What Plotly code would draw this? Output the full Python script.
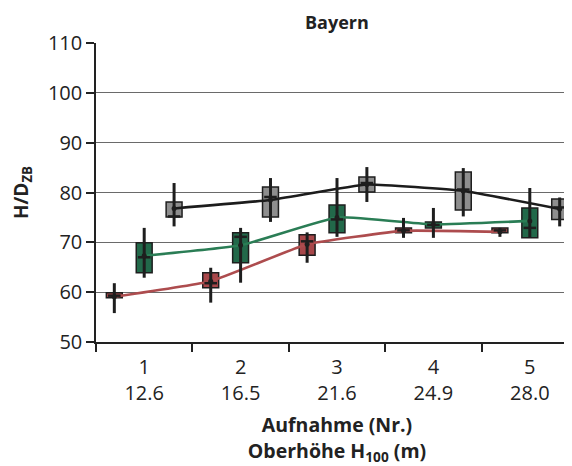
import plotly.graph_objects as go

categories = [1, 2, 3, 4, 5]
tick_labels = ["1<br>12.6", "2<br>16.5", "3<br>21.6", "4<br>24.9", "5<br>28.0"]

# red series
red_q1 = [58.9, 60.9, 67.4, 71.9, 71.9]
red_q3 = [59.9, 63.9, 71.5, 72.9, 72.9]
red_lo = [55.8, 57.9, 65.9, 70.9, 71.1]
red_hi = [61.8, 64.9, 72.0, 74.9, 72.9]
red_med = [59.3, 61.8, 70.2, 72.4, 72.4]
red_mean = [59.1, 62.2, 69.6, 72.3, 72.1]

# green series
green_q1 = [63.9, 65.9, 71.9, 72.9, 70.9]
green_q3 = [69.9, 71.9, 77.5, 74.1, 76.9]
green_lo = [62.9, 61.9, 71.1, 70.9, 70.9]
green_hi = [72.9, 72.9, 82.9, 76.9, 80.9]
green_med = [67.0, 71.1, 74.6, 73.5, 72.9]
green_mean = [67.3, 69.4, 75.0, 73.6, 74.3]

# gray series
gray_q1 = [75.1, 75.1, 80.1, 76.5, 74.6]
gray_q3 = [78.1, 81.1, 83.1, 84.1, 78.7]
gray_lo = [73.2, 74.1, 78.1, 75.2, 73.2]
gray_hi = [81.9, 82.9, 85.1, 84.9, 79.0]
gray_med = [75.2, 79.1, 81.9, 80.6, 77.0]
gray_mean = [76.8, 78.5, 81.6, 80.3, 76.7]

series = [
    dict(q1=red_q1, q3=red_q3, lo=red_lo, hi=red_hi, med=red_med, mean=red_mean,
         fill="#a8474a", line="#ad4c4e", off=-0.31),
    dict(q1=green_q1, q3=green_q3, lo=green_lo, hi=green_hi, med=green_med, mean=green_mean,
         fill="#22694a", line="#2a7d55", off=0.0),
    dict(q1=gray_q1, q3=gray_q3, lo=gray_lo, hi=gray_hi, med=gray_med, mean=gray_mean,
         fill="#8e8e8e", line="#1c1c1c", off=0.31),
]

dark = "#1e1e1e"
fig = go.Figure()

# connecting lines (behind)
for s in series:
    xs = [c + s["off"] for c in categories]
    fig.add_trace(go.Scatter(x=xs, y=s["mean"], mode="lines",
                             line=dict(color=s["line"], width=2.6, shape="spline", smoothing=0.35),
                             hoverinfo="skip", showlegend=False))

for s in series:
    xs = [c + s["off"] for c in categories]
    wx, wy = [], []
    for x, lo, hi in zip(xs, s["lo"], s["hi"]):
        wx += [x, x, None]
        wy += [lo, hi, None]
    fig.add_trace(go.Scatter(x=wx, y=wy, mode="lines", line=dict(color=dark, width=3),
                             hoverinfo="skip", showlegend=False))
    fig.add_trace(go.Bar(x=xs, y=[b - a for a, b in zip(s["q1"], s["q3"])], base=s["q1"],
                         width=0.165, marker=dict(color=s["fill"], line=dict(color=dark, width=1.5)),
                         showlegend=False))
    fig.add_trace(go.Scatter(x=xs, y=s["med"], mode="markers",
                             marker=dict(symbol="line-ew", size=9, line=dict(color=dark, width=2.5)),
                             showlegend=False))
    fig.add_trace(go.Scatter(x=xs, y=s["mean"], mode="markers",
                             marker=dict(symbol="circle", size=5, color=dark),
                             showlegend=False))

font = "Open Sans"
fig.update_layout(
    width=572, height=466,
    margin=dict(l=88, r=2, t=35, b=132, autoexpand=False),
    paper_bgcolor="white", plot_bgcolor="white",
    barmode="overlay",
    font=dict(family=font, color="#222", size=19),
    showlegend=False,
    annotations=[dict(text="<b>Bayern</b>", x=0.5, xref="paper", yref="paper",
                      y=1 + 35 / 299, yanchor="top",
                      showarrow=False, font=dict(size=18, family=font, color="#222"))],
)

fig.update_xaxes(
    automargin=False,
    range=[0.5, 5.5], tickmode="array", tickvals=categories, ticktext=tick_labels,
    ticks="", showgrid=False, zeroline=False, ticklabelstandoff=6,
    showline=True, linecolor="#222", linewidth=1.5,
    tickfont=dict(size=20, family=font, color="#222"),
    minor=dict(tickmode="linear", tick0=0.5, dtick=1, ticks="outside", ticklen=8,
               tickcolor="#222", tickwidth=1.5, showgrid=False),
    title=dict(text="<b>Aufnahme (Nr.)<br>Oberhöhe H<sub>100</sub> (m)</b>",
               font=dict(size=19.5, family=font, color="#222"), standoff=14),
)
fig.update_yaxes(
    automargin=False,
    range=[50, 110], tickvals=[50, 60, 70, 80, 90, 100, 110],
    ticks="outside", ticklen=8, tickcolor="#222", tickwidth=1.5,
    showgrid=True, gridcolor="#6a6a6a", gridwidth=1, zeroline=False,
    showline=True, linecolor="#222", linewidth=1.5,
    tickfont=dict(size=20, family=font, color="#222"),
    title=dict(text="<b>H/D<sub>ZB</sub></b>", font=dict(size=19, family=font, color="#222"),
               standoff=14),
)

fig.write_html("out.html")
